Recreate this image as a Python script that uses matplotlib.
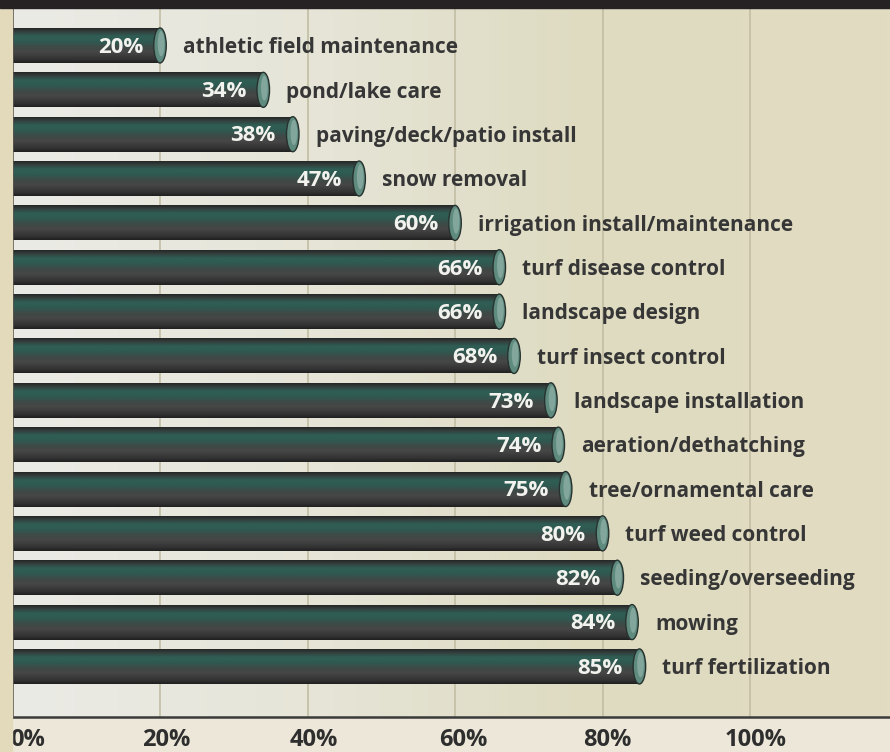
import numpy as np
import matplotlib
matplotlib.use("Agg")
import matplotlib.pyplot as plt
from matplotlib.colors import LinearSegmentedColormap
from matplotlib.patches import Ellipse, Rectangle

plt.rcParams['font.family'] = ['Open Sans', 'DejaVu Sans']

# ---- data (top to bottom as shown) ----
categories = ["athletic field maintenance", "pond/lake care", "paving/deck/patio install",
              "snow removal", "irrigation install/maintenance", "turf disease control",
              "landscape design", "turf insect control", "landscape installation",
              "aeration/dethatching", "tree/ornamental care", "turf weed control",
              "seeding/overseeding", "mowing", "turf fertilization"]
values = [20, 34, 38, 47, 60, 66, 66, 68, 73, 74, 75, 80, 82, 84, 85]
tick_values = [0, 20, 40, 60, 80, 100]
tick_labels = ["0%", "20%", "40%", "60%", "80%", "100%"]

fig = plt.figure(figsize=(8.9, 7.52), dpi=100, facecolor='#ece7d8')
fig.patches.append(Rectangle((0, 0), 0.014, 1, transform=fig.transFigure, color='#e3d9bb', zorder=0))
fig.patches.append(Rectangle((0, 0.9894), 1, 0.02, transform=fig.transFigure, color='#262224', zorder=0))

ax = fig.add_axes([0.01404, 0.04654, 0.98596, 0.94282])
n = len(values)
ypos = np.arange(n)[::-1]
ax.set_xlim(0, 118.98)
ax.set_ylim(-1.14, n - 1 + 0.845)

bg = LinearSegmentedColormap.from_list('bg', ['#ebebe6', '#e6e5d8', '#dedbc0', '#e2dcc2'])
ax.imshow(np.linspace(0, 1, 256)[None, :], cmap=bg, aspect='auto',
          extent=(0, 1, 0, 1), transform=ax.transAxes, zorder=0)

for t in tick_values[1:]:
    ax.axvline(t, color='#c2bea4', lw=1.2, zorder=1)

cyl = LinearSegmentedColormap.from_list('cyl', [
    (0.0, '#202020'), (0.1, '#323232'), (0.3, '#464646'), (0.45, '#3e4a47'),
    (0.6, '#2f5a51'), (0.75, '#2f5e55'), (0.88, '#343e3c'), (1.0, '#202020')])
grad = np.linspace(0, 1, 128)[:, None]
h = 0.79
bars = ax.barh(ypos, values, height=h, color='none', zorder=2)
for b, v, y in zip(bars, values, ypos):
    im = ax.imshow(grad, cmap=cyl, aspect='auto', origin='lower',
                   extent=(0, v, y - h / 2, y + h / 2), zorder=2)
    im.set_clip_path(b)
    ax.add_patch(Ellipse((v, y), width=1.7, height=h, facecolor='#5f8b7f',
                         edgecolor='#27322f', lw=1.0, zorder=3))
    ax.add_patch(Ellipse((v + 0.15, y + 0.04), width=0.9, height=h * 0.72,
                         facecolor='#8fb0a6', edgecolor='none', alpha=0.75, zorder=3))
    ax.text(v - 2.3, y - 0.04, f"{v}%", ha='right', va='center', color='#f2f2ee',
            fontsize=16, fontweight='bold', zorder=4)
for cat, v, y in zip(categories, values, ypos):
    ax.text(v + 3.1, y - 0.05, cat, ha='left', va='center', color='#363636',
            fontsize=15, fontweight='bold', zorder=4)

ax.set_xticks(tick_values)
ax.set_xticklabels([])
ax.tick_params(axis='x', length=0)
ax.set_yticks([])
tick_dx = [1.9, 0.8, 0.8, 1.1, 0.7, 0.7]
tick_ha = ['left', 'center', 'center', 'center', 'center', 'center']
for tv, tl, dx, ha in zip(tick_values, tick_labels, tick_dx, tick_ha):
    xx = tv - 0.3 if ha == 'left' else tv + dx
    ax.text(xx, -0.033, tl, transform=ax.get_xaxis_transform(), ha=ha, va='center',
            fontsize=17, fontweight='bold', color='#2e2e2e', clip_on=False)

for s in ['top', 'right']:
    ax.spines[s].set_visible(False)
ax.spines['left'].set_color('#2e2e2e')
ax.spines['left'].set_linewidth(1.8)
ax.spines['bottom'].set_color('#3a3a3a')
ax.spines['bottom'].set_linewidth(1.8)

fig.savefig('out.png', dpi=100, facecolor=fig.get_facecolor())
